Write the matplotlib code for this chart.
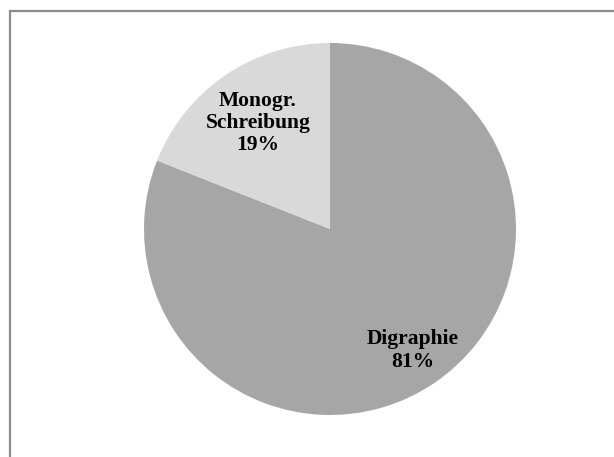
import matplotlib.pyplot as plt
import matplotlib.patches as mpatches
import numpy as np

categories = ['Digraphie', 'Monogr.\nSchreibung']
shares = [81, 19]
colors = ['#a6a6a6', '#d9d9d9']
label_dist = [0.79, 0.69]

plt.rcParams['font.family'] = ['Liberation Serif', 'DejaVu Serif']

fig = plt.figure(figsize=(6.14, 4.57), dpi=100)
ax = fig.add_axes([144 / 614, 42 / 457, 372 / 614, 372 / 457])

wedges, _ = ax.pie(shares, colors=colors, startangle=90, counterclock=False,
                   radius=1, wedgeprops=dict(linewidth=0))
ax.set_xlim(-1, 1)
ax.set_ylim(-1, 1)
ax.set_aspect('equal')
ax.axis('off')

# labels sit inside each slice, name on top and percent below
for w, name, val, d in zip(wedges, categories, shares, label_dist):
    mid = np.deg2rad((w.theta1 + w.theta2) / 2)
    ax.text(d * np.cos(mid), d * np.sin(mid), f'{name}\n{val}%',
            ha='center', va='center', fontsize=15.5, fontweight='bold',
            linespacing=1.15)

# chart area border (top and left edges visible)
frame = mpatches.Rectangle((10 / 614, -0.2), 1.2, 1.2 + (457 - 11) / 457 - 1.0,
                           transform=fig.transFigure, fill=False,
                           edgecolor='#8c8c8c', linewidth=1.6, clip_on=False)
fig.patches.append(frame)

fig.savefig('out.png', dpi=100)
